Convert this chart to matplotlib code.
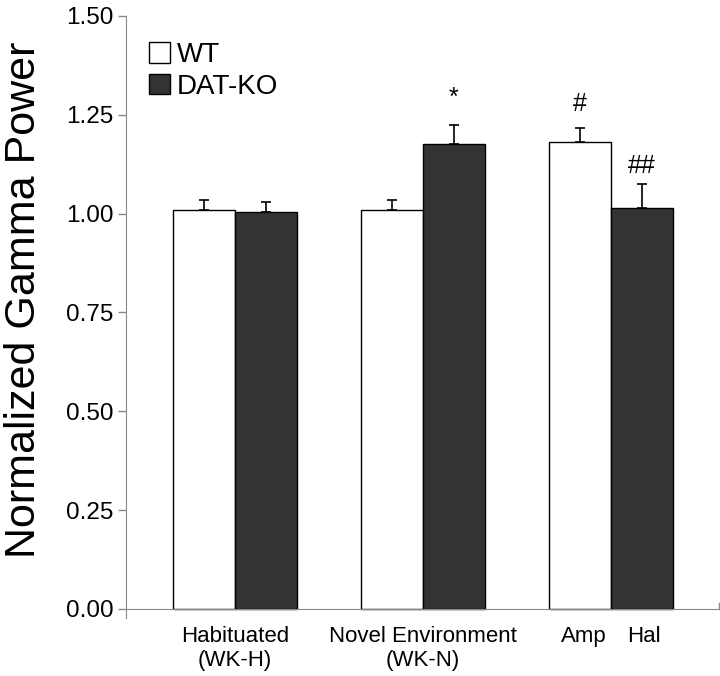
import matplotlib.pyplot as plt
import numpy as np

# --- data ---
groups = ["Habituated\n(WK-H)", "Novel Environment\n(WK-N)", "Amp / Hal"]
wt_vals = [1.010, 1.010, 1.182]
wt_err = [0.025, 0.025, 0.035]
ko_vals = [1.005, 1.177, 1.015]
ko_err = [0.025, 0.048, 0.061]
yticks = [0.00, 0.25, 0.50, 0.75, 1.00, 1.25, 1.50]
# significance marks: (group, series offset sign, text, gap above error bar)
marks = [(1, +1, "*", 0.050), (2, -1, "#", 0.043), (2, +1, "##", 0.027)]

plt.rcParams['font.family'] = ['Liberation Sans', 'DejaVu Sans']

fig = plt.figure(figsize=(7.2, 6.76), dpi=100)
ax = fig.add_axes([126 / 720, (676 - 618) / 676, (719 - 126) / 720, (618 - 16) / 676])

x = np.arange(len(groups))
w = 0.33
ax.bar(x - w / 2, wt_vals, w, color='white', edgecolor='black', linewidth=1.0, label='WT', zorder=2)
ax.bar(x + w / 2, ko_vals, w, color='#333333', edgecolor='black', linewidth=1.0, label='DAT-KO', zorder=2)
ax.errorbar(x - w / 2, wt_vals, yerr=[np.zeros(3), wt_err], fmt='none', ecolor='black',
            elinewidth=1.2, capsize=3.3, capthick=1.2, zorder=3)
ax.errorbar(x + w / 2, ko_vals, yerr=[np.zeros(3), ko_err], fmt='none', ecolor='black',
            elinewidth=1.2, capsize=3.3, capthick=1.2, zorder=3)

for g, side, txt, gap in marks:
    if side > 0:
        top = ko_vals[g] + ko_err[g]
    else:
        top = wt_vals[g] + wt_err[g]
    ax.text(g + side * w / 2, top + gap, txt, ha='center', va='baseline', fontsize=18)

ax.set_xlim(-0.581, 2.576)
ax.set_ylim(-0.023, 1.5)
ax.set_yticks(yticks)
ax.set_yticklabels([f"{v:.2f}" for v in yticks])

# the third group is labelled per bar (Amp under WT, Hal under DAT-KO)
tick_pos = [0, 1, 2 - w / 2 + 0.02, 2 + w / 2 + 0.01]
tick_lab = groups[:2] + groups[2].split(" / ")
ax.set_xticks(tick_pos)
ax.set_xticklabels(tick_lab, linespacing=1.05, va='top')
ax.tick_params(axis='x', length=0, pad=12, labelsize=16)
ax.tick_params(axis='y', length=6, color='#888888', width=1, pad=3, labelsize=17.5)

for s in ['top', 'right']:
    ax.spines[s].set_visible(False)
ax.spines['left'].set_color('#888888')
ax.spines['bottom'].set_color('#888888')
ax.spines['bottom'].set_position(('data', 0))
ax.plot([1, 1], [0, 0.015], transform=ax.get_yaxis_transform(), color='#888888', lw=1, clip_on=False)

ax.set_ylabel("Normalized Gamma Power", fontsize=31)
ax.yaxis.set_label_coords(-0.138, 0.528)

ax.legend(loc='upper left', bbox_to_anchor=(0.02, 0.975), frameon=False, fontsize=20,
          handlelength=0.75, handleheight=0.75, handletextpad=0.25, labelspacing=0.2,
          borderaxespad=0)

fig.savefig("out.png", dpi=100, facecolor='white')
